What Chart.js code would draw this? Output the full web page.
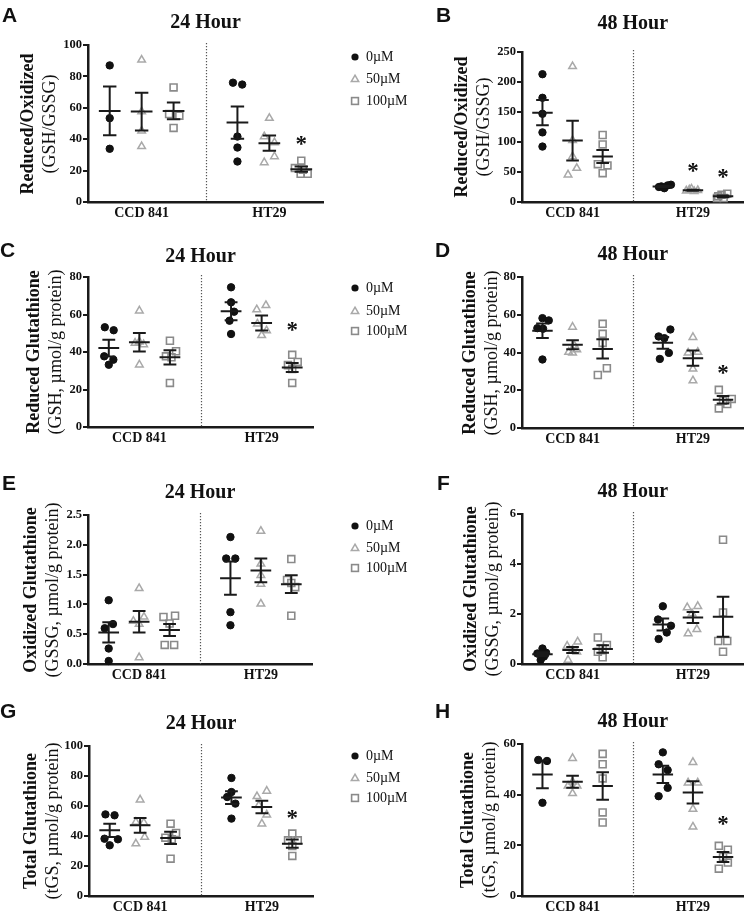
<!DOCTYPE html>
<html>
<head>
<meta charset="utf-8">
<script src="https://cdn.jsdelivr.net/npm/chart.js@4.4.1/dist/chart.umd.min.js"></script>
<style>
  html, body { margin: 0; padding: 0; background: #fff; overflow: hidden; }
  #wrap { position: relative; width: 750px; height: 919px; font-family: 'Liberation Serif', serif; color: #111; }
  canvas { position: absolute; }
  .letter { position: absolute; font-family: 'Liberation Sans', Arial, sans-serif; font-weight: bold; font-size: 21px; line-height: 1; color: #111; }
  .ytitle { position: absolute; transform: translate(-50%, -50%) rotate(-90deg); white-space: nowrap; text-align: center; font-size: 18px; line-height: 22px; color: #111; }
  .ytitle b { display: block; }
  .ytitle span { display: block; }
  .leg { position: absolute; font-size: 14px; line-height: 16px; white-space: nowrap; }
  .leg svg { position: absolute; }
</style>
</head>
<body>
<div id="wrap"></div>
<script>
// ---------- data ----------
const cellLines = ['CCD 841', 'HT29'];
const doses = ['0µM', '50µM', '100µM'];
const hourTitles = ['24 Hour', '48 Hour'];
// group order in every panel: CCD 0, CCD 50, CCD 100, HT29 0, HT29 50, HT29 100

// A: 24 h reduced/oxidized
const A_values = [[87, 53.4, 33.9], [90.5, 57.6, 45.3, 35.4], [73, 56, 55, 47.2], [76, 74.8, 41.7, 34.7, 25.8], [53.4, 41.7, 37.9, 29, 25.2], [26.3, 21.6, 20.6, 18, 18]];
const A_jitter = [[0, 0, 0], [0, 0, 0, 0], [0, -0.14, 0.18, 0], [-0.14, 0.15, 0, 0, 0], [0, -0.16, 0.16, 0.16, -0.16], [0, -0.2, 0.05, -0.02, 0.2]];
const A_mean = [58, 57.6, 58, 50.6, 37.5, 20.9];
const A_sem = [15.5, 12, 5.3, 10.3, 4.9, 1.7];
const A_stars = [null, null, null, null, null, 39.6];
const A_ticks = [0, 20, 40, 60, 80, 100];

// B: 48 h reduced/oxidized
const B_values = [[213, 173.7, 147, 116, 92.4], [226, 103, 75.8, 56.4, 45.4], [111.7, 96, 63, 61, 48], [28.8, 27.7, 26, 25, 23], [22, 20.5, 19.4, 18.8, 17.7], [13.8, 12, 9.4, 6.6, 6.6]];
const B_jitter = [[0, 0, 0, 0, 0], [0, 0, 0, 0.14, -0.15], [0, 0, -0.16, 0.16, 0], [0.27, 0.16, -0.05, -0.13, 0.05], [-0.05, -0.12, 0.16, -0.22, 0.04], [0.14, -0.05, -0.16, 0.02, -0.2]];
const B_mean = [148.8, 102.3, 75.8, 26, 19.6, 9.4];
const B_sem = [21, 33, 11, 1.2, 0.8, 1.5];
const B_stars = [null, null, null, null, 59, 48];
const B_ticks = [0, 50, 100, 150, 200, 250];

// C: 24 h reduced glutathione
const C_values = [[53.2, 51.6, 37.7, 35.9, 33.2], [62, 45.5, 44.8, 44, 33.2], [46, 40.4, 37.7, 37.2, 23.5], [74.5, 66.5, 61.5, 56.7, 49.6], [64.9, 62.6, 55, 51.4, 48.9], [38.5, 34.7, 33, 31, 23.5]];
const C_jitter = [[-0.13, 0.16, -0.15, 0.15, 0], [0, 0, -0.14, 0.14, 0], [0, 0.2, -0.13, 0.05, 0], [0, 0, 0.1, -0.05, 0], [0.14, -0.16, -0.14, 0.16, 0], [0, 0.18, -0.14, 0, 0]];
const C_mean = [42.1, 45.2, 37.2, 61.7, 55.5, 31.8];
const C_sem = [4.5, 4.9, 3.8, 4.8, 4, 2.4];
const C_stars = [null, null, null, null, null, 53.7];
const C_ticks = [0, 20, 40, 60, 80];

// D: 48 h reduced glutathione
const D_values = [[58.2, 57, 52.9, 52.6, 36.3], [53.5, 43.7, 41.6, 40.2, 39.8], [55.2, 49.9, 45.1, 31.7, 28.1], [52.2, 48.5, 47.6, 39.8, 36.6], [48.1, 40.2, 39.8, 31.3, 25.1], [20.2, 15.4, 14.5, 12.7, 10.4]];
const D_jitter = [[0, 0.21, -0.17, 0.02, 0], [0, 0.06, 0.14, -0.13, 0], [0, 0, 0, 0.14, -0.16], [0.25, -0.14, 0.05, 0.2, -0.1], [0, 0.16, -0.16, 0, 0], [-0.14, 0.29, 0, 0.14, -0.14]];
const D_mean = [51.5, 44.1, 41.9, 45.1, 37, 15];
const D_sem = [3.8, 2.4, 5.1, 3.1, 4, 2];
const D_stars = [null, null, null, null, null, 31];
const D_ticks = [0, 20, 40, 60, 80];

// E: 24 h oxidized glutathione
const E_values = [[1.07, 0.67, 0.6, 0.26, 0.05], [1.27, 0.79, 0.72, 0.67, 0.11], [0.81, 0.79, 0.68, 0.32, 0.32], [2.13, 1.77, 1.77, 0.87, 0.65], [2.23, 1.68, 1.49, 1.34, 1.01], [1.76, 1.41, 1.36, 1.29, 0.81]];
const E_jitter = [[0, 0.14, -0.13, 0, 0], [0, 0.16, -0.19, 0, 0], [0.18, -0.2, 0, -0.16, 0.15], [0, -0.14, 0.16, 0, 0], [0, 0, 0, 0, 0], [0, -0.14, 0, 0.13, 0]];
const E_mean = [0.53, 0.71, 0.57, 1.44, 1.57, 1.34];
const E_sem = [0.17, 0.18, 0.1, 0.28, 0.2, 0.15];
const E_stars = [null, null, null, null, null, null];
const E_ticks = [0, 0.5, 1.0, 1.5, 2.0, 2.5];

// F: 48 h oxidized glutathione
const F_values = [[0.62, 0.45, 0.42, 0.3, 0.16], [0.89, 0.72, 0.56, 0.49, 0.16], [1.06, 0.76, 0.62, 0.49, 0.27], [2.31, 1.78, 1.53, 1.26, 1.0], [2.31, 2.26, 2.02, 1.39, 1.22], [4.97, 2.06, 0.92, 0.92, 0.49]];
const F_jitter = [[0, 0.12, -0.17, 0.05, -0.06], [0.17, -0.18, 0, 0.14, -0.15], [-0.16, 0.14, 0, -0.16, 0], [0, -0.16, 0.27, 0.13, -0.14], [0.16, -0.19, -0.03, 0.13, -0.16], [0, 0, -0.16, 0.14, 0]];
const F_mean = [0.39, 0.56, 0.6, 1.58, 1.86, 1.89];
const F_sem = [0.08, 0.12, 0.15, 0.24, 0.22, 0.8];
const F_stars = [null, null, null, null, null, null];
const F_ticks = [0, 2, 4, 6];

// G: 24 h total glutathione
const G_values = [[54.4, 53.8, 38.2, 37.8, 33.8], [64.2, 49.3, 48.9, 39.3, 34.9], [48.2, 42, 38.9, 37.8, 24.9], [78.7, 69.3, 66, 61.6, 51.6], [70, 66.4, 60.4, 54.2, 48.2], [41.6, 37.1, 37.1, 33.3, 26.7]];
const G_jitter = [[-0.14, 0.16, -0.17, 0.27, 0], [0, -0.14, 0.12, 0.15, -0.14], [0, 0.18, -0.17, 0.04, 0], [0, 0, -0.14, 0.13, 0], [0.16, -0.16, -0.1, 0.16, 0], [0, -0.14, 0.18, 0, 0]];
const G_mean = [43.8, 47.1, 38.7, 65.6, 59.3, 34.9];
const G_sem = [4.4, 4.9, 4.1, 4.3, 4.2, 2.8];
const G_stars = [null, null, null, null, null, 54.9];
const G_ticks = [0, 20, 40, 60, 80, 100];

// H: 48 h total glutathione
const H_values = [[53.7, 53.3, 36.8], [54.4, 45.1, 43.5, 43.5, 40.5], [56.1, 52, 46.4, 33, 29], [56.7, 52, 49.7, 42.7, 39.4], [52.8, 44.7, 44.7, 34.3, 27.3], [19.8, 18.3, 15.4, 13.2, 10.8]];
const H_jitter = [[-0.14, 0.15, 0], [0, 0, -0.15, 0.15, 0], [0, 0, 0, 0, 0], [0, -0.14, 0.16, 0.16, -0.14], [0, -0.16, 0.16, 0, 0], [-0.14, 0.16, 0, 0.16, -0.14]];
const H_mean = [48, 45.1, 43.4, 48, 40.9, 15.4];
const H_sem = [5.5, 2.4, 5.4, 3.4, 4.4, 2];
const H_stars = [null, null, null, null, null, 29.9];
const H_ticks = [0, 20, 40, 60];

const yTitles = {
  ratio: ['Reduced/Oxidized', '(GSH/GSSG)'],
  gsh: ['Reduced Glutathione', '(GSH, µmol/g protein)'],
  gssg: ['Oxidized Glutathione', '(GSSG, µmol/g protein)'],
  tgs: ['Total Glutathione', '(tGS, µmol/g protein)']
};

// ---------- layout / style ----------
const FONT = "'Liberation Serif', 'Times New Roman', serif";
const INK = '#1a1a1a';
const YW = 40, XH = 22;
const markerStyles = [
  { pointStyle: 'circle', pointRadius: 3.7, pointBackgroundColor: '#111', pointBorderColor: '#111', pointBorderWidth: 1 },
  { pointStyle: 'triangle', pointRadius: 4.4, pointBackgroundColor: 'rgba(0,0,0,0)', pointBorderColor: '#a9a9a9', pointBorderWidth: 1.5 },
  { pointStyle: 'rect', pointRadius: 4.9, pointBackgroundColor: 'rgba(0,0,0,0)', pointBorderColor: '#8a8a8a', pointBorderWidth: 1.6 }
];

const panels = [
  { L: 'A', v: A_values, j: A_jitter, m: A_mean, s: A_sem, st: A_stars, t: A_ticks, yt: yTitles.ratio, h: 0, cx: 0, cy: 0, cw: 340, left: 88, right: 323, top: 45, bottom: 202, titleY: 23, ytx: 38, lx: 2, ly: 4 },
  { L: 'B', v: B_values, j: B_jitter, m: B_mean, s: B_sem, st: B_stars, t: B_ticks, yt: yTitles.ratio, h: 1, cx: 380, cy: 0, cw: 370, left: 522, right: 749, top: 52, bottom: 202, titleY: 24, ytx: 471.5, lx: 436, ly: 4 },
  { L: 'C', v: C_values, j: C_jitter, m: C_mean, s: C_sem, st: C_stars, t: C_ticks, yt: yTitles.gsh, h: 0, cx: 0, cy: 232, cw: 340, left: 88, right: 313, top: 277, bottom: 427, titleY: 257, ytx: 44, lx: 0, ly: 239 },
  { L: 'D', v: D_values, j: D_jitter, m: D_mean, s: D_sem, st: D_stars, t: D_ticks, yt: yTitles.gsh, h: 1, cx: 380, cy: 232, cw: 370, left: 522, right: 749, top: 277, bottom: 428, titleY: 255, ytx: 480, lx: 435, ly: 239 },
  { L: 'E', v: E_values, j: E_jitter, m: E_mean, s: E_sem, st: E_stars, t: E_ticks, yt: yTitles.gssg, h: 0, cx: 0, cy: 462, cw: 340, left: 88, right: 312, top: 515, bottom: 664, titleY: 493, ytx: 40.5, lx: 2, ly: 472, dec: 1 },
  { L: 'F', v: F_values, j: F_jitter, m: F_mean, s: F_sem, st: F_stars, t: F_ticks, yt: yTitles.gssg, h: 1, cx: 380, cy: 462, cw: 370, left: 522, right: 749, top: 514, bottom: 664, titleY: 492, ytx: 480.5, lx: 437, ly: 472 },
  { L: 'G', v: G_values, j: G_jitter, m: G_mean, s: G_sem, st: G_stars, t: G_ticks, yt: yTitles.tgs, h: 0, cx: 0, cy: 695, cw: 340, left: 89, right: 313, top: 746, bottom: 896, titleY: 724, ytx: 40.5, lx: 0, ly: 700 },
  { L: 'H', v: H_values, j: H_jitter, m: H_mean, s: H_sem, st: H_stars, t: H_ticks, yt: yTitles.tgs, h: 1, cx: 380, cy: 695, cw: 370, left: 522, right: 749, top: 744, bottom: 896, titleY: 722, ytx: 477.5, lx: 435, ly: 700 }
];
const legendRows = [[57, 79, 101], [288, 311, 331], [526, 548, 568], [756, 778, 798]];

// ---------- mean ± SEM, divider, asterisks ----------
const semPlugin = {
  id: 'semBars',
  afterDatasetsDraw(chart, args, opts) {
    const { ctx, chartArea } = chart;
    const x = chart.scales.x, y = chart.scales.y;
    ctx.save();
    const dx = Math.round(x.getPixelForValue(4)) + 0.5;
    ctx.strokeStyle = '#555';
    ctx.lineWidth = 1.2;
    ctx.setLineDash([1.2, 1.8]);
    ctx.beginPath();
    ctx.moveTo(dx, chartArea.top - 2);
    ctx.lineTo(dx, chartArea.bottom);
    ctx.stroke();
    ctx.setLineDash([]);
    ctx.strokeStyle = INK;
    ctx.lineWidth = 2;
    opts.mean.forEach((m, g) => {
      const pos = Math.floor(g / 3) * 4 + (g % 3) + 1;
      const px = x.getPixelForValue(pos);
      const hw = x.getPixelForValue(pos + 0.34) - px;
      const cw = x.getPixelForValue(pos + 0.21) - px;
      const ym = y.getPixelForValue(m);
      const yt = y.getPixelForValue(m + opts.sem[g]);
      const yb = y.getPixelForValue(m - opts.sem[g]);
      ctx.beginPath();
      ctx.moveTo(px - hw, ym); ctx.lineTo(px + hw, ym);
      ctx.moveTo(px, yt); ctx.lineTo(px, yb);
      ctx.moveTo(px - cw, yt); ctx.lineTo(px + cw, yt);
      ctx.moveTo(px - cw, yb); ctx.lineTo(px + cw, yb);
      ctx.stroke();
      const star = opts.stars[g];
      if (star != null) {
        ctx.fillStyle = '#111';
        ctx.font = 'bold 23px ' + FONT;
        ctx.textAlign = 'center';
        ctx.textBaseline = 'alphabetic';
        ctx.fillText('*', px, y.getPixelForValue(star) + 11);
      }
    });
    ctx.restore();
  }
};

const wrap = document.getElementById('wrap');

panels.forEach(p => {
  const ch = p.bottom + XH - p.cy;
  const cv = document.createElement('canvas');
  cv.width = p.cw; cv.height = ch;
  cv.style.left = p.cx + 'px'; cv.style.top = p.cy + 'px';
  cv.style.width = p.cw + 'px'; cv.style.height = ch + 'px';
  wrap.appendChild(cv);

  const tTop = p.titleY - p.cy - 12;
  const tBottom = p.top - p.cy - tTop - 24;

  const datasets = doses.map((dose, d) => Object.assign({
    label: dose,
    clip: false,
    data: [0, 1].flatMap(c => p.v[c * 3 + d].map((val, i) => ({ x: c * 4 + d + 1 + p.j[c * 3 + d][i], y: val })))
  }, markerStyles[d]));

  new Chart(cv, {
    type: 'scatter',
    data: { datasets },
    plugins: [semPlugin],
    options: {
      responsive: false,
      animation: false,
      events: [],
      layout: { padding: { left: p.left - p.cx - YW, right: p.cx + p.cw - p.right, top: 0, bottom: 0 } },
      plugins: {
        legend: { display: false },
        tooltip: { enabled: false },
        title: {
          display: true, text: hourTitles[p.h], fullSize: false, color: '#111',
          font: { family: FONT, size: 20, weight: 'bold' },
          padding: { top: tTop, bottom: tBottom }
        },
        semBars: { mean: p.m, sem: p.s, stars: p.st }
      },
      scales: {
        x: {
          type: 'linear', min: 0.32, max: 7.68,
          afterBuildTicks: s => { s.ticks = [{ value: 2 }, { value: 6 }]; },
          afterFit: s => { s.height = XH; },
          grid: { display: false, drawTicks: false },
          border: { display: true, color: INK, width: 2.5 },
          ticks: {
            autoSkip: false, maxRotation: 0, padding: 3, color: '#111',
            font: { family: FONT, size: 14, weight: 'bold' },
            callback: v => (v === 2 ? cellLines[0] : cellLines[1])
          }
        },
        y: {
          type: 'linear', min: p.t[0], max: p.t[p.t.length - 1],
          afterBuildTicks: s => { s.ticks = p.t.map(v => ({ value: v })); },
          afterFit: s => { s.width = YW; },
          grid: { display: true, drawOnChartArea: false, drawTicks: true, tickLength: 5, color: INK, lineWidth: 2 },
          border: { display: true, color: INK, width: 2.5 },
          ticks: {
            padding: 1, color: '#111',
            font: { family: FONT, size: 12.5, weight: 'bold' },
            callback: v => (p.dec ? v.toFixed(p.dec) : String(v))
          }
        }
      }
    }
  });

  const lt = document.createElement('div');
  lt.className = 'letter';
  lt.style.left = p.lx + 'px'; lt.style.top = p.ly + 'px';
  lt.textContent = p.L;
  wrap.appendChild(lt);

  const yt = document.createElement('div');
  yt.className = 'ytitle';
  yt.style.left = p.ytx + 'px';
  yt.style.top = ((p.top + p.bottom) / 2) + 'px';
  const b = document.createElement('b'); b.textContent = p.yt[0];
  const s = document.createElement('span'); s.textContent = p.yt[1];
  yt.appendChild(b); yt.appendChild(s);
  wrap.appendChild(yt);
});

// legends (one per row, right of the left panel)
const svgMarkers = [
  '<svg width="12" height="12" style="left:-17px;top:2px"><circle cx="6" cy="6" r="3.6" fill="#111"/></svg>',
  '<svg width="12" height="12" style="left:-17px;top:2px"><polygon points="6,2.2 9.7,8.6 2.3,8.6" fill="none" stroke="#a9a9a9" stroke-width="1.5"/></svg>',
  '<svg width="12" height="12" style="left:-17px;top:2px"><rect x="2.6" y="2.6" width="6.8" height="6.8" fill="none" stroke="#8a8a8a" stroke-width="1.6"/></svg>'
];
legendRows.forEach(row => {
  row.forEach((yc, d) => {
    const el = document.createElement('div');
    el.className = 'leg';
    el.style.left = '366px';
    el.style.top = (yc - 8) + 'px';
    el.innerHTML = svgMarkers[d];
    el.appendChild(document.createTextNode(doses[d]));
    wrap.appendChild(el);
  });
});
</script>
</body>
</html>
